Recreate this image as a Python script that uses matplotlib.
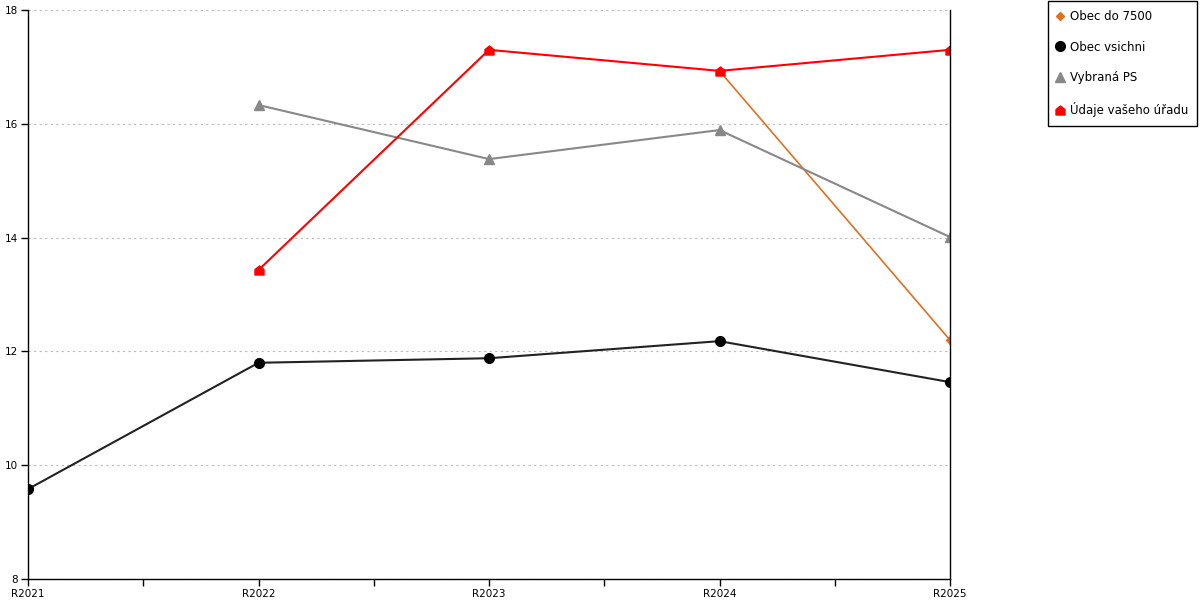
import matplotlib
matplotlib.use("Agg")
import matplotlib.pyplot as plt
from matplotlib.path import Path
import numpy as np

years = ["R2021", "R2022", "R2023", "R2024", "R2025"]
obec_do_7500 = [np.nan, np.nan, np.nan, 16.93, 12.20]
obec_vsichni = [9.58, 11.80, 11.88, 12.18, 11.46]
vybrana_ps = [np.nan, 16.33, 15.38, 15.89, 14.01]
udaje_uradu = [np.nan, 13.43, 17.30, 16.93, 17.30]

house = Path([(-1, -1), (1, -1), (1, 0.2), (0, 1), (-1, 0.2), (-1, -1)],
             [Path.MOVETO, Path.LINETO, Path.LINETO, Path.LINETO, Path.LINETO, Path.CLOSEPOLY])

fig = plt.figure(figsize=(12, 6), dpi=100)
ax = fig.add_axes([28 / 1200, 21 / 600, 922 / 1200, 569 / 600])
x = np.arange(len(years))

ax.plot(x, obec_do_7500, color="#e07020", lw=1.2, marker="D", ms=4.5, label="Obec do 7500")
ax.plot(x, obec_vsichni, color="#222222", lw=1.5, marker="o", ms=7, mfc="black", mec="black", label="Obec vsichni")
ax.plot(x, vybrana_ps, color="#888888", lw=1.5, marker="^", ms=7, label="Vybraná PS")
ax.plot(x, udaje_uradu, color="#ff0000", lw=1.5, marker=house, ms=6.5, label="Údaje vašeho úřadu")

ax.set_xlim(0, 4)
ax.set_ylim(8, 18)
ax.set_xticks(x)
ax.set_xticklabels(years, fontsize=7.5)
ax.set_xticks(x[:-1] + 0.5, minor=True)
ax.set_yticks([8, 10, 12, 14, 16, 18])
ax.tick_params(axis="y", labelsize=7.5, length=5, width=1, pad=2)
ax.tick_params(axis="x", which="both", length=5, width=1, pad=2, direction="out")
ax.grid(axis="y", color="#bbbbbb", linestyle=(0, (2, 3)), lw=0.8)
ax.spines["top"].set_visible(False)
for s in ["left", "bottom", "right"]:
    ax.spines[s].set_color("black")
    ax.spines[s].set_linewidth(1)

leg = fig.legend(loc="upper right", bbox_to_anchor=(1197 / 1200, 1 - 1 / 600), fontsize=8.5,
                 frameon=True, fancybox=False, edgecolor="black", framealpha=1,
                 handlelength=0.6, handletextpad=0.5, labelspacing=1.5, borderpad=0.75,
                 borderaxespad=0, numpoints=1)
for h in leg.get_lines():
    h.set_linestyle("none")

fig.savefig("out.png", dpi=100)
